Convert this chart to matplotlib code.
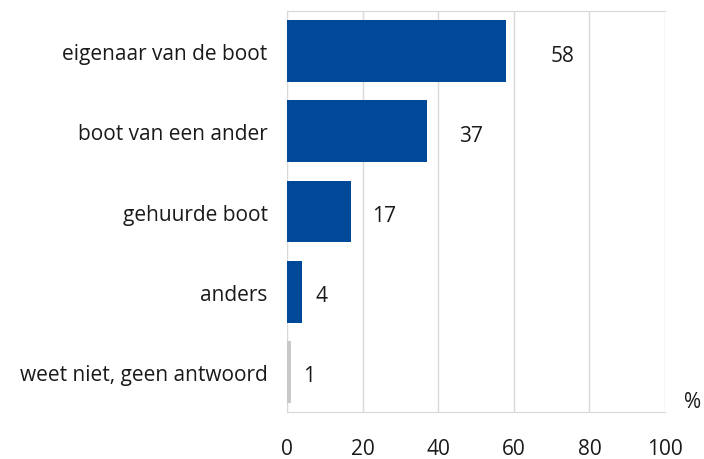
import matplotlib
matplotlib.use("Agg")
import matplotlib.pyplot as plt

# Antwoorden en percentages
categories = [
    "eigenaar van de boot",
    "boot van een ander",
    "gehuurde boot",
    "anders",
    "weet niet, geen antwoord",
]
values = [58, 37, 17, 4, 1]
bar_colors = ["#004898", "#004898", "#004898", "#004898", "#c8c8c8"]
x_ticks = [0, 20, 40, 60, 80, 100]

plt.rcParams["font.family"] = ["Open Sans", "DejaVu Sans"]
FS = 15
TXT = "#1a1a1a"

fig = plt.figure(figsize=(7.04, 4.6), dpi=100)
ax = fig.add_axes([287 / 704, 1 - 413 / 460, 378 / 704, 401 / 460])

y = list(range(len(categories)))
ax.barh(y, values, height=0.77, color=bar_colors, zorder=3)

for yi, v in zip(y, values):
    ax.text(v * 1.15 + 3, yi + 0.05, str(v), va="center", ha="left",
            fontsize=FS, color=TXT)

ax.set_xlim(0, 100)
ax.set_ylim(len(categories) - 0.5, -0.5)
ax.set_yticks(y)
ax.set_yticklabels(categories, fontsize=FS, color=TXT)
ax.set_xticks(x_ticks)
ax.set_xticklabels([str(t) for t in x_ticks], fontsize=FS, color=TXT)

ax.grid(axis="x", color="#d9d9d9", linewidth=1, zorder=0)
ax.tick_params(length=0)
ax.tick_params(axis="x", pad=19)
ax.tick_params(axis="y", pad=14)
for side in ["top", "right", "bottom", "left"]:
    ax.spines[side].set_color("#d9d9d9")
ax.spines["right"].set_visible(False)

fig.text(693 / 704, 1 - 403 / 460, "%", ha="center", va="center",
         fontsize=FS, color=TXT)

fig.savefig("out.png", dpi=100)
